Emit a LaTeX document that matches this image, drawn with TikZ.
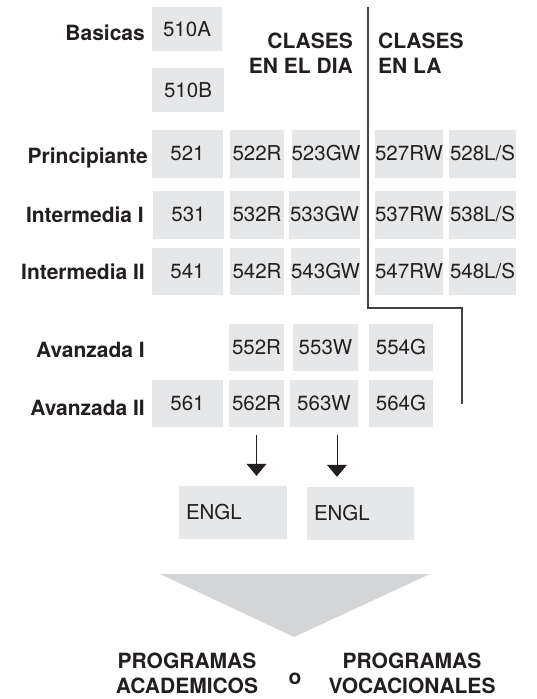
\documentclass[tikz,border=0pt]{standalone}
\usepackage{fontspec}
\setmainfont{TeX Gyre Heros}
\usetikzlibrary{arrows.meta}
\definecolor{boxgray}{HTML}{E6E7E8}
\definecolor{funnelgray}{HTML}{D4D5D7}
\definecolor{inkdark}{HTML}{231F20}
\begin{document}
\begin{tikzpicture}[x=1pt,y=-1pt,
course/.style ={rectangle, fill=boxgray, inner sep=0pt,
  text=inkdark, font=\fontsize{20.5}{24}\selectfont,
  minimum height=47pt
},
level/.style ={anchor=base east, inner sep=0pt, text=inkdark,
  font=\fontsize{21}{25}\selectfont\bfseries
},
heading/.style ={inner sep=0pt, text=inkdark,
  font=\fontsize{21}{25}\selectfont\bfseries
},
flow/.style ={draw=inkdark, line width=1pt,
  -{Triangle[width=20pt,length=12pt]}
},
divider/.style ={draw=inkdark!85, line width=1.2pt}]
\useasboundingbox (0,0) rectangle (536,699);
% levels
\node (basicas) at (145,40) [level] {Basicas};
\node (princ) at (148,163) [level] {Principiante};
\node (inter1) at (144,222) [level] {Intermedia I};
\node (inter2) at (145,279) [level] {Intermedia II};
\node (avanz1) at (145,357) [level] {Avanzada I};
\node (avanz2) at (145,415) [level] {Avanzada II};
% headings
\node (dia) at (353,53) [heading, anchor=east, align=right] {CLASES\\EN EL DIA};
\node (noche) at (378,53) [heading, anchor=west, align=left] {CLASES\\EN LA};
% courses
\node (c510a) at (187,29) [course, minimum width=70pt, minimum height=44pt] {510A};
\node (c510b) at (188,90) [course, minimum width=72pt, minimum height=44pt] {510B};
\node (c521) at (187.5,153.5) [course, minimum width=71pt, minimum height=48pt] {521};
\node (c522) at (257,153.5) [course, minimum width=54pt, minimum height=48pt] {522R};
\node (c523) at (326,153.5) [course, minimum width=68pt, minimum height=48pt] {523GW};
\node (c527) at (409,153.5) [course, minimum width=68pt, minimum height=48pt] {527RW};
\node (c528) at (482.5,153.5) [course, minimum width=67pt, minimum height=48pt] {528L/S};
\node (c531) at (188.5,214.5) [course, minimum width=71pt, minimum height=48pt] {531};
\node (c532) at (257,214.5) [course, minimum width=54pt, minimum height=48pt] {532R};
\node (c533) at (324.5,214.5) [course, minimum width=71pt, minimum height=48pt] {533GW};
\node (c537) at (409,214.5) [course, minimum width=68pt, minimum height=48pt] {537RW};
\node (c538) at (482.5,214.5) [course, minimum width=67pt, minimum height=48pt] {538L/S};
\node (c541) at (187.5,271.5) [course, minimum width=71pt] {541};
\node (c542) at (257,271.5) [course, minimum width=54pt] {542R};
\node (c543) at (325.5,271.5) [course, minimum width=67pt] {543GW};
\node (c547) at (409,271.5) [course, minimum width=68pt] {547RW};
\node (c548) at (482.5,271.5) [course, minimum width=67pt] {548L/S};
\node (c552) at (256.5,347.5) [course, minimum width=55pt] {552R};
\node (c553) at (325.5,347.5) [course, minimum width=65pt] {553W};
\node (c554) at (401,347.5) [course, minimum width=64pt] {554G};
\node (c561) at (187.5,403.5) [course, minimum width=71pt] {561};
\node (c562) at (256.5,403.5) [course, minimum width=55pt] {562R};
\node (c563) at (324,403.5) [course, minimum width=68pt] {563W};
\node (c564) at (401,403.5) [course, minimum width=64pt] {564G};
\node (engl1) at (233,512.5) [course, minimum width=108pt, minimum height=53pt, text width=94pt, align=left] {ENGL};
\node (engl2) at (360.5,513.5) [course, minimum width=107pt, minimum height=53pt, text width=93pt, align=left] {ENGL};
% day / evening divider
\coordinate (cut top) at (368,7);
\coordinate (cut bend) at (368,308);
\coordinate (cut end) at (462,404);
\draw[divider] (cut top) -- (cut bend) -| (cut end);
% to English
\draw[flow, shorten <=8pt, shorten >=10pt] (c562.south) -- (c562.south |- engl1.north);
\draw[flow, shorten <=8pt, shorten >=10pt] ([xshift=13pt]c563.south) -- ([xshift=13pt]c563.south |- engl2.north);
% funnel
\fill[funnelgray] (160,574) -- (430,574) -- (294,637) -- cycle;
\node (acad) at (187,673) [heading, align=center] {PROGRAMAS\\ACADEMICOS};
\node (o) at (295,684) [heading, anchor=base] {o};
\node (voc) at (412,673) [heading, align=center] {PROGRAMAS\\VOCACIONALES};
\end{tikzpicture}
\end{document}
